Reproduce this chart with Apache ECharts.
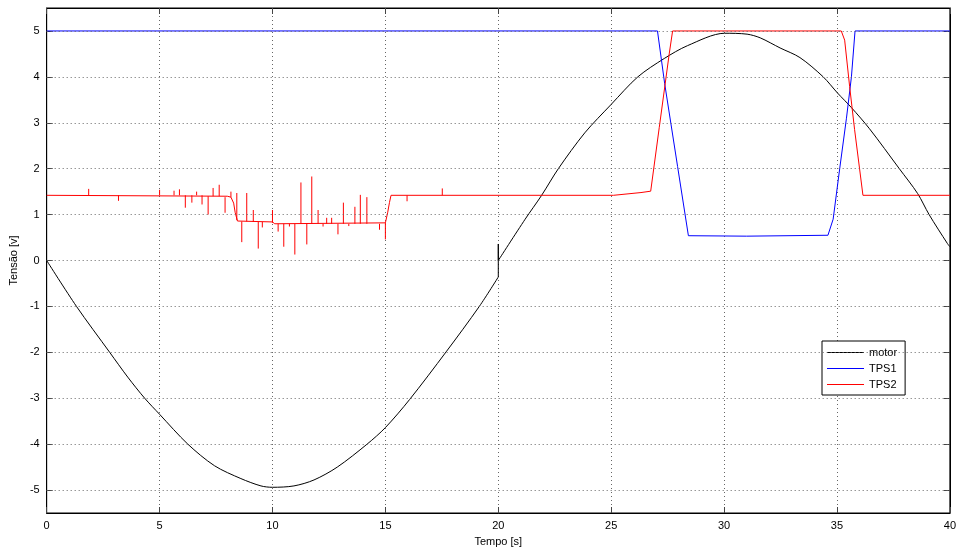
<!DOCTYPE html>
<html>
<head>
<meta charset="utf-8">
<script src="https://cdn.jsdelivr.net/npm/echarts@6/dist/echarts.min.js"></script>
<style>html,body{margin:0;padding:0;background:#fff}#c{width:959px;height:552px}</style>
</head>
<body>
<div id="c"></div>
<script>
// ---- data ----
const xTicks = [0, 5, 10, 15, 20, 25, 30, 35, 40];
const yTicks = [-5, -4, -3, -2, -1, 0, 1, 2, 3, 4, 5];
const legendNames = ['motor', 'TPS1', 'TPS2'];

// motor: first half (0..20 s), the jump at 20 s, second half (20..40 s)
const motorA = [[0,0],[1.32,-1],[2.79,-2],[3.59,-2.54],[4.34,-3],[5,-3.35],[6.25,-4],[7.43,-4.47],[8.6,-4.75],[9.49,-4.91],[10,-4.94],
  [10.95,-4.91],[11.84,-4.78],[12.87,-4.5],[14.19,-4.0],[15,-3.64],[16.07,-3.03],[17.69,-1.99],[19.16,-1.0],[20,-0.36]];
const motorJump = [[20,-0.36],[20,0.36],[20,0]];
const motorB = [[20,0],[21.19,0.9],[21.92,1.42],[22.66,2.0],[23.83,2.78],[25,3.4],[26.18,4.0],[27.35,4.4],[28.38,4.68],[30.02,4.95],
  [31.02,4.93],[31.6,4.85],[32.48,4.63],[33.36,4.42],[34.39,4.0],[35.02,3.65],[35.64,3.33],[36.44,2.87],[37.76,2.0],
  [38.57,1.46],[39.08,1.0],[39.89,0.37],[40,0.3]];

const tps1 = [[0,5],[27.05,5],[27.37,3.85],[27.94,2.05],[28.42,0.54],[31,0.53],[34.6,0.55],[34.83,0.9],[35.12,2.0],
  [35.42,3.1],[35.64,4.0],[35.8,5],[40,5]];

const tps2 = [[0,1.42],[8.0,1.40],[8.16,1.38],[8.28,1.25],[8.35,1.04],[8.45,0.86],[10.0,0.84],[10.1,0.8],[15.0,0.82],
  [15.1,1.04],[15.18,1.26],[15.25,1.42],[25.1,1.42],[26.32,1.48],[26.75,1.51],[27.13,2.9],[27.57,4.5],[27.72,5],
  [35.19,5],[35.34,4.8],[35.56,3.79],[35.78,2.85],[36.15,1.42],[40,1.42]];

// spikes in TPS2: [time, spike value, level it departs from]
const tps2Spikes = [[1.86,1.56,1.42],[3.18,1.30,1.42],[5.0,1.54,1.42],[5.64,1.52,1.42],[5.88,1.55,1.42],[6.14,1.15,1.42],
  [6.43,1.26,1.42],[6.64,1.5,1.42],[6.88,1.22,1.42],[7.15,1.0,1.40],[7.37,1.58,1.40],[7.64,1.65,1.40],[7.9,1.04,1.38],
  [8.16,1.5,1.38],[8.42,1.47,0.88],[8.64,0.4,0.85],[8.86,1.47,0.85],[9.15,1.1,0.84],[9.37,0.26,0.84],[9.55,0.72,0.84],
  [10.0,1.1,0.82],[10.25,0.63,0.8],[10.5,0.3,0.8],[10.75,0.74,0.8],[10.99,0.13,0.8],[11.26,1.7,0.8],[11.52,0.35,0.8],
  [11.74,1.83,0.8],[12.02,1.1,0.8],[12.24,0.74,0.8],[12.4,0.93,0.8],[12.62,0.93,0.8],[12.9,0.57,0.8],[13.14,1.26,0.8],
  [13.38,0.75,0.8],[13.65,1.17,0.8],[13.89,1.43,0.8],[14.18,1.38,0.8],[14.74,0.67,0.8],[15.0,0.46,0.82],
  [15.96,1.29,1.42],[17.52,1.57,1.42]];

// ---- build ----
const spikeData = [];
tps2Spikes.forEach(s => { spikeData.push([s[0], s[2]], [s[0], s[1]], null); });

const FONT = 'Liberation Sans';
const tickCol = '#444';
const gridCol = '#666';

function xAxis(pos, labels) {
  return {
    type: 'value', min: 0, max: 40, interval: 5, position: pos,
    axisLine: { show: true, onZero: false, lineStyle: { color: '#000', width: 1 } },
    axisTick: { show: true, inside: true, length: 6, lineStyle: { color: tickCol } },
    axisLabel: { show: labels, color: '#000', fontFamily: FONT, fontSize: 11, margin: 7 },
    splitLine: { show: labels, lineStyle: { type: [1, 3], color: gridCol, width: 1 } },
    name: labels ? 'Tempo [s]' : '', nameLocation: 'middle', nameGap: 23,
    nameTextStyle: { color: '#000', fontFamily: FONT, fontSize: 11 }
  };
}
function yAxis(pos, labels) {
  return {
    type: 'value', min: -5.5, max: 5.5, position: pos,
    interval: 1,
    axisLine: { show: true, onZero: false, lineStyle: { color: '#000', width: 1 } },
    axisTick: { show: true, inside: true, length: 6, lineStyle: { color: tickCol },
      customValues: yTicks },
    axisLabel: { show: labels, color: '#000', fontFamily: FONT, fontSize: 11, margin: 7,
      customValues: yTicks },
    splitLine: { show: false },
    name: labels ? 'Tensão [v]' : '', nameLocation: 'middle', nameGap: 21,
    nameTextStyle: { color: '#000', fontFamily: FONT, fontSize: 11 }
  };
}

const lineS = (name, data, color, extra) => Object.assign({
  type: 'line', name, data, symbol: 'none', lineStyle: { color, width: 1 }, itemStyle: { color }
}, extra || {});

const chart = echarts.init(document.getElementById('c'), null, { renderer: 'canvas' });
chart.setOption({
  animation: false,
  backgroundColor: '#fff',
  grid: { left: 45, right: 5, top: 8, bottom: 37, show: true, borderColor: '#000', borderWidth: 1, backgroundColor: 'transparent' },
  xAxis: [xAxis('bottom', true), xAxis('top', false)],
  yAxis: [yAxis('left', true), yAxis('right', false)],
  legend: {
    orient: 'vertical', left: 822, top: 341,
    data: legendNames.map(n => ({ name: n, icon: 'path://M0,0H37V1.2H0Z' })),
    itemWidth: 37, itemHeight: 10, itemGap: 5,
    padding: [6, 8, 5, 5],
    borderColor: '#000', borderWidth: 1, backgroundColor: '#fff',
    textStyle: { color: '#000', fontFamily: FONT, fontSize: 11 }
  },
  series: [
    { type: 'line', name: '_grid', silent: true, symbol: 'none', data: [],
      markLine: { silent: true, symbol: 'none', label: { show: false },
        lineStyle: { type: [1, 3], color: gridCol, width: 1 },
        data: yTicks.map(v => ({ yAxis: v })) } },
    lineS('motor', motorA, '#000', { smooth: 0.3 }),
    lineS('motor jump', motorJump, '#000'),
    lineS('motor b', motorB, '#000', { smooth: 0.3 }),
    lineS('TPS1', tps1, '#0000ff'),
    lineS('TPS2', tps2, '#ff0000'),
    lineS('TPS2 spikes', spikeData, '#ff0000', { connectNulls: false })
  ]
});
</script>
</body>
</html>
